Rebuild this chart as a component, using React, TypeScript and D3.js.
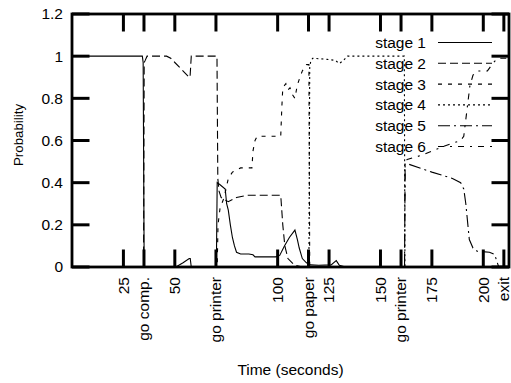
import React from "react";
import * as d3 from "d3";

// ---- data ----
const xTickValues = [25, 35, 50, 70, 100, 115, 125, 150, 160, 175, 200, 210];
const xTickLabels = ["25", "go comp.", "50", "go printer", "100", "go paper", "125", "150", "go printer", "175", "200", "exit"];
const yTickValues = [0, 0.2, 0.4, 0.6, 0.8, 1, 1.2];
const yTickLabels = ["0", "0.2", "0.4", "0.6", "0.8", "1", "1.2"];
const seriesNames = ["stage 1", "stage 2", "stage 3", "stage 4", "stage 5", "stage 6"];

const stage1: [number, number][] = [
  [0, 1], [34.2, 1], [34.6, 0.97], [35.1, 0], [50.5, 0], [54, 0.02], [57, 0.04], [57.5, 0.04], [58, 0],
  [70.2, 0], [70.6, 0.4], [72, 0.39], [74.5, 0.37], [75.2, 0.3], [76, 0.27], [77, 0.2], [78, 0.14],
  [79, 0.1], [80, 0.07], [82, 0.062], [86, 0.062], [88, 0.058], [89, 0.048], [91, 0.048], [99, 0.048],
  [101, 0.055], [103.3, 0.1], [105.7, 0.14], [108.4, 0.175], [109.6, 0.13], [110.5, 0.09], [112, 0.04],
  [114, 0.02], [116, 0.01], [120, 0.008], [126, 0.01], [128.5, 0.03], [130, 0.008], [133, 0], [212.5, 0],
];
const stage2: [number, number][] = [
  [0, 0], [34.8, 0], [35.1, 0.97], [35.6, 0.98], [36.5, 1], [46, 1], [48, 0.99], [50, 0.97], [53, 0.94],
  [55, 0.92], [57, 0.9], [57.4, 0.9], [58, 1], [70.5, 1], [70.9, 0.42], [71.5, 0.36], [72.5, 0.33],
  [74, 0.32], [76, 0.31], [80, 0.33], [85, 0.34], [101.5, 0.34], [102.5, 0.2], [103.5, 0.1], [105, 0.04],
  [108, 0.01], [112, 0], [212.5, 0],
];
const stage3: [number, number][] = [
  [0, 0], [70.6, 0], [71, 0.2], [72, 0.28], [74, 0.33], [76, 0.42], [78, 0.45], [82, 0.47], [87.5, 0.47],
  [88, 0.55], [89, 0.6], [90, 0.62], [101.5, 0.62], [102, 0.75], [102.5, 0.85], [104, 0.87], [105, 0.84],
  [106, 0.85], [107, 0.82], [108.4, 0.8], [109.5, 0.86], [110.5, 0.89], [112, 0.93], [114, 0.96],
  [115.2, 0.96], [115.6, 0], [212.5, 0],
];
const stage4: [number, number][] = [
  [0, 0], [115.2, 0], [115.6, 0.95], [116, 0.97], [117, 0.99], [124, 0.985], [128, 0.98], [130, 0.965],
  [132, 0.98], [134, 1], [161.6, 1], [161.9, 0], [212.5, 0],
];
const stage5: [number, number][] = [
  [0, 0], [161.7, 0], [162, 0.49], [163, 0.49], [175, 0.45], [185, 0.42], [189, 0.4], [190.5, 0.37],
  [191.5, 0.3], [192.5, 0.2], [193.2, 0.13], [195, 0.09], [197, 0.075], [203, 0.07], [205.5, 0.06],
  [206.5, 0.03], [207.5, 0], [212.5, 0],
];
const stage6: [number, number][] = [
  [0, 0], [161.7, 0], [162, 0.5], [163, 0.51], [170, 0.53], [180, 0.57], [189, 0.6], [190.5, 0.62],
  [191.5, 0.7], [192.5, 0.78], [193.5, 0.86], [195, 0.91], [197, 0.93], [202, 0.93], [205, 0.97],
  [207, 0.99], [212.5, 0.99],
];
const allSeries = [stage1, stage2, stage3, stage4, stage5, stage6];
const dashes = ["", "8,4", "4,6", "2,3", "12,4,2,4", "6,6,2,6"];

// ---- layout ----
const W = 511, H = 383;
const L = 72, R = 509, T = 14, B = 267;
const FONT = "'Liberation Sans', Arial, Helvetica, sans-serif";

export default function App() {
  const x = d3.scaleLinear().domain([0, 212.5]).range([L, R]);
  const y = d3.scaleLinear().domain([0, 1.2]).range([B, T]);
  const line = d3.line<[number, number]>().x(d => x(d[0])).y(d => y(d[1]));
  const tickLen = 17.5;
  const legendX = 426;
  const legendY0 = 42.5;
  const legendDy = 20.8;

  return (
    <svg width={W} height={H} style={{ position: "absolute", left: 0, top: 0, background: "#fff" }}
      fontFamily={FONT}>
      <defs>
        <clipPath id="plotclip">
          <rect x={L} y={T} width={R - L} height={B - T} />
        </clipPath>
      </defs>
      <rect x={0} y={0} width={W} height={H} fill="#fff" />
      {/* data */}
      <g clipPath="url(#plotclip)">
        {allSeries.map((s, i) => (
          <path key={i} d={line(s) || ""} fill="none" stroke="#000" strokeWidth={1.1}
            strokeDasharray={dashes[i] || undefined} strokeLinejoin="miter" />
        ))}
      </g>
      {/* legend */}
      {seriesNames.map((n, i) => {
        const yy = legendY0 + i * legendDy;
        return (
          <g key={n}>
            <text x={legendX} y={yy} textAnchor="end" dy="0.35em" fontSize={15.5}>{n}</text>
            <line x1={438} x2={492} y1={yy} y2={yy} stroke="#000" strokeWidth={1.1}
              strokeDasharray={dashes[i] || undefined} />
          </g>
        );
      })}
      {/* ticks */}
      {yTickValues.map((v, i) => (
        <g key={"y" + i}>
          <line x1={L} x2={L + tickLen} y1={y(v)} y2={y(v)} stroke="#000" strokeWidth={3} />
          <line x1={R - tickLen} x2={R} y1={y(v)} y2={y(v)} stroke="#000" strokeWidth={3} />
          <text x={63} y={y(v)} dy="0.35em" textAnchor="end" fontSize={15.5}>{yTickLabels[i]}</text>
        </g>
      ))}
      {xTickValues.map((v, i) => (
        <g key={"x" + i}>
          <line x1={x(v)} x2={x(v)} y1={B} y2={B - tickLen} stroke="#000" strokeWidth={3} />
          <line x1={x(v)} x2={x(v)} y1={T} y2={T + tickLen} stroke="#000" strokeWidth={3} />
          <text transform={`translate(${x(v)},${277}) rotate(-90)`} dy="0.35em" textAnchor="end" fontSize={15.5}>
            {xTickLabels[i]}
          </text>
        </g>
      ))}
      {/* border */}
      <rect x={L} y={T} width={R - L} height={B - T} fill="none" stroke="#000" strokeWidth={2.8} />
      {/* axis titles */}
      <text x={(L + R) / 2} y={375} textAnchor="middle" fontSize={15.5}>Time (seconds)</text>
      <text transform={`translate(18,${135}) rotate(-90)`} dy="0.35em" textAnchor="middle" fontSize={13.3}>Probability</text>
    </svg>
  );
}
